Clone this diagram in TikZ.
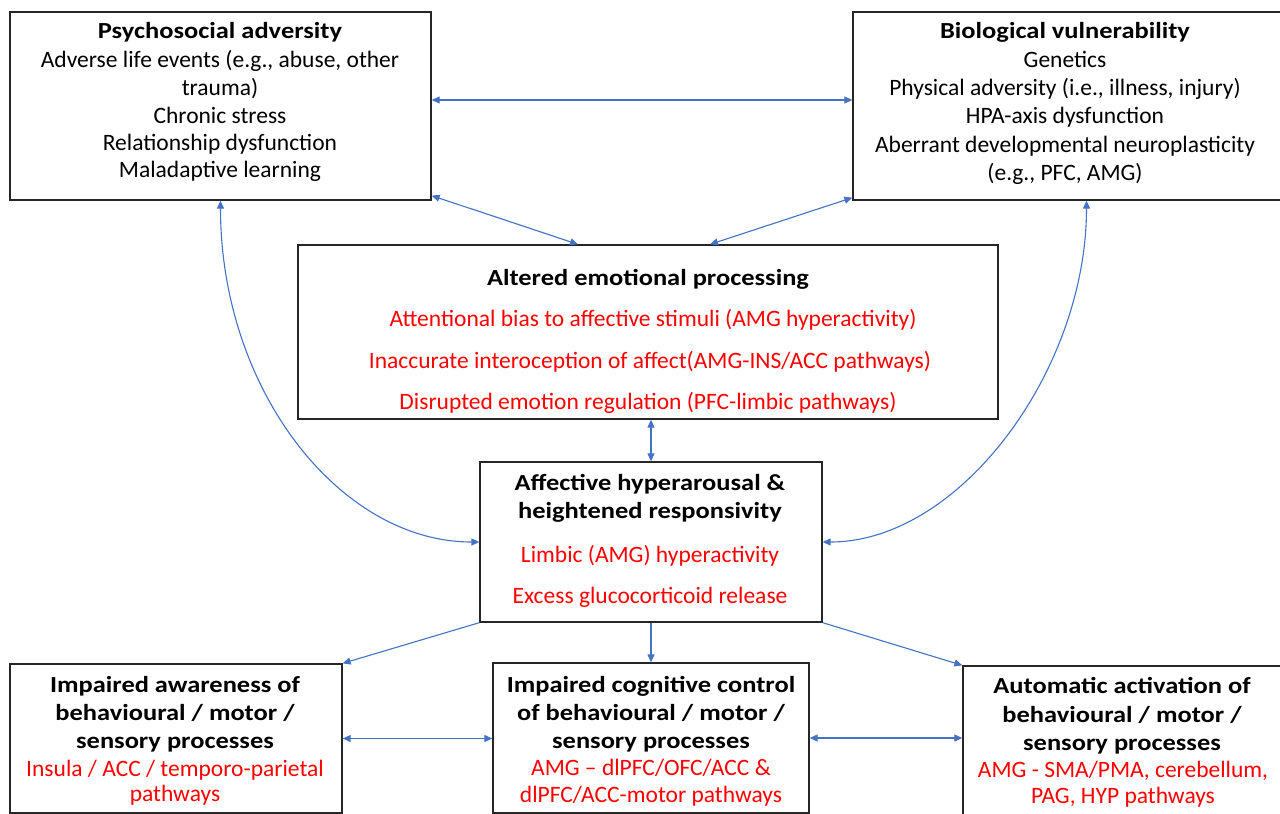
\documentclass[tikz,border=0pt]{standalone}
\usepackage{fontspec}
\setmainfont{Carlito}
\newfontfamily\ttlfont[FakeStretch=1.15]{Carlito}
\usetikzlibrary{arrows.meta}
\definecolor{arrblue}{HTML}{4472C4}
\definecolor{redtext}{HTML}{FF0000}
\begin{document}
\begin{tikzpicture}[x=1pt,y=-1pt,
  box/.style={draw=black!85,line width=1.3pt,rectangle,inner sep=0},
  txt/.style={inner sep=0,anchor=base,font=\fontsize{23.5}{27}\selectfont},
  ttl/.style={txt,font=\fontsize{23}{27}\ttlfont\bfseries},
  rtxt/.style={txt,text=redtext},
  con/.style={draw=arrblue,line width=1.1pt,-{Triangle[length=8pt,width=7pt]}},
  bicon/.style={draw=arrblue,line width=1.1pt,{Triangle[length=8pt,width=7pt]}-{Triangle[length=8pt,width=7pt]}}]
\useasboundingbox (0,0) rectangle (1280,814);
\fill[white] (0,0) rectangle (1280,814);
\clip (0,0) rectangle (1280,814);

% boxes
\node[box,minimum width=421pt,minimum height=188pt] (psych) at (220.5,106) {};
\node[box,minimum width=437pt,minimum height=188pt] (bio) at (1071.5,106) {};
\node[box,minimum width=700pt,minimum height=174pt] (alt) at (648,332) {};
\node[box,minimum width=342pt,minimum height=160pt] (aff) at (651,542) {};
\node[box,minimum width=332pt,minimum height=149pt] (awa) at (176,738.5) {};
\node[box,minimum width=316pt,minimum height=150pt] (cog) at (651,738) {};
\node[box,minimum width=327pt,minimum height=164pt] (aut) at (1126.5,748) {};

% psychosocial text
\node[ttl] (p0) at (220,38) {Psychosocial adversity};
\node[txt] (p1) at (220,67) {Adverse life events (e.g., abuse, other};
\node[txt] (p2) at (220,95) {trauma)};
\node[txt] (p3) at (220,123) {Chronic stress};
\node[txt] (p4) at (220,150) {Relationship dysfunction};
\node[txt] (p5) at (220,177) {Maladaptive learning};

% biological text
\node[ttl] (b0) at (1065,38) {Biological vulnerability};
\node[txt] (b1) at (1065,67) {Genetics};
\node[txt] (b2) at (1065,95) {Physical adversity (i.e., illness, injury)};
\node[txt] (b3) at (1065,123) {HPA-axis dysfunction};
\node[txt] (b4) at (1065,152) {Aberrant developmental neuroplasticity};
\node[txt] (b5) at (1065,180) {(e.g., PFC, AMG)};

% altered emotional processing
\node[ttl] (a0) at (648,285) {Altered emotional processing};
\node[rtxt] (a1) at (653,326) {Attentional bias to affective stimuli (AMG hyperactivity)};
\node[rtxt] (a2) at (650,368) {Inaccurate interoception of affect(AMG-INS/ACC pathways)};
\node[rtxt] (a3) at (648,409) {Disrupted emotion regulation (PFC-limbic pathways)};

% affective hyperarousal
\node[ttl] (h0) at (650,490) {Affective hyperarousal \&};
\node[ttl] (h1) at (650,518) {heightened responsivity};
\node[rtxt] (h2) at (650,562) {Limbic (AMG) hyperactivity};
\node[rtxt] (h3) at (650,603) {Excess glucocorticoid release};

% impaired awareness
\node[ttl] (w0) at (175,692) {Impaired awareness of};
\node[ttl] (w1) at (175,720) {behavioural / motor /};
\node[ttl] (w2) at (175,748) {sensory processes};
\node[rtxt] (w3) at (175,776) {Insula / ACC / temporo-parietal};
\node[rtxt] (w4) at (175,801) {pathways};

% impaired cognitive control
\node[ttl] (c0) at (651,692) {Impaired cognitive control};
\node[ttl] (c1) at (651,720) {of behavioural / motor /};
\node[ttl] (c2) at (651,748) {sensory processes};
\node[rtxt] (c3) at (651,775) {AMG – dlPFC/OFC/ACC \&};
\node[rtxt] (c4) at (651,802) {dlPFC/ACC-motor pathways};

% automatic activation
\node[ttl] (u0) at (1122,693) {Automatic activation of};
\node[ttl] (u1) at (1122,722) {behavioural / motor /};
\node[ttl] (u2) at (1122,750) {sensory processes};
\node[rtxt] (u3) at (1123,777) {AMG - SMA/PMA, cerebellum,};
\node[rtxt] (u4) at (1123,803) {PAG, HYP pathways};

% connectors
\draw[bicon] ([yshift=6pt]psych.east) -- ([yshift=6pt]psych.east -| bio.west);
\draw[bicon] ([yshift=5pt]psych.south east) -- ([xshift=-70pt]alt.north);
\draw[bicon] ([yshift=3pt]bio.south west) -- ([xshift=62pt]alt.north);
\draw[bicon] (aff.north |- alt.south) -- (aff.north);
\draw[bicon] (psych.south) .. controls (220.5,390) and (340,542) .. (aff.west);
\draw[bicon] ([xshift=15pt]bio.south) .. controls (1086.5,370) and (960,542) .. (aff.east);
\draw[con] (aff.south west) -- (awa.north east);
\draw[con] (aff.south) -- (cog.north);
\draw[con] (aff.south east) -- (aut.north west);
\draw[bicon] (awa.east) -- (awa.east -| cog.west);
\draw[bicon] (cog.east) -- (cog.east -| aut.west);
\end{tikzpicture}
\end{document}
